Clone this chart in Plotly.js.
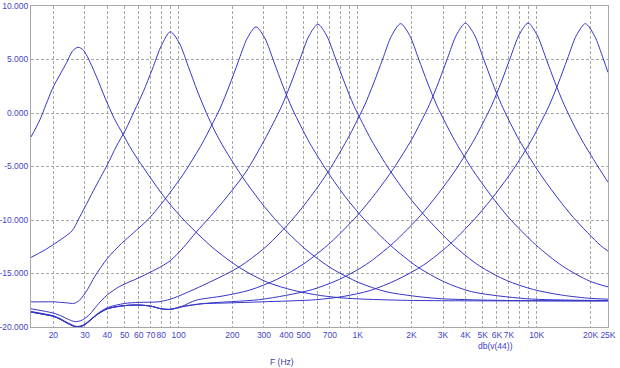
<!DOCTYPE html>
<html>
<head>
<meta charset="utf-8">
<script src="https://cdn.plot.ly/plotly-3.0.1.min.js"></script>
<style>html,body{margin:0;padding:0;background:#fff;}#chart{width:620px;height:368px;}</style>
</head>
<body>
<div id="chart"></div>
<script>
// Frequencies (Hz) and levels (dB), one pair per band
const f1 = [15, 16.7, 18.2, 19.8, 21.7, 23.7, 25.6, 27.5, 29.2, 30.9, 34.6, 38.9, 43.7, 49, 55, 69.3, 87.3, 110, 155.6, 220, 311, 440, 622, 880, 1760, 3520, 25000];
const d1 = [-2.24, -0.75, 0.8, 2.3, 3.55, 4.7, 5.8, 6.15, 5.93, 5.3, 3.5, 1.4, -0.5, -2.0, -3.5, -6.0, -8.3, -10.2, -12.6, -14.47, -15.8, -16.58, -17.06, -17.32, -17.5, -17.55, -17.56];

const f2 = [15, 17.5, 20, 23, 25.5, 27.5, 30, 33.5, 37, 40, 45, 50.5, 56.7, 63.6, 71.4, 80.2, 90, 101, 113.4, 127.3, 142.9, 160.4, 180, 226.8, 285.7, 360, 509, 720, 1018, 1440, 2036, 2880, 5760, 11520, 25000];
const d2 = [-13.5, -12.9, -12.3, -11.6, -11.0, -10.0, -8.8, -7.25, -5.9, -4.85, -3.1, -1.6, 0.2, 2.0, 4.1, 6.3, 7.6, 6.54, 4.34, 2.07, 0.03, -1.78, -3.3, -5.95, -8.25, -10.25, -12.7, -14.55, -15.85, -16.7, -17.1, -17.35, -17.5, -17.55, -17.56];

const f3 = [15, 17.5, 20, 22, 24, 26, 28, 31, 34, 40, 48, 56, 68, 85, 107.5, 135.5, 152, 170.7, 191.6, 215, 241.4, 271, 304.2, 341.4, 383.3, 430.2, 482.9, 542, 683, 860, 1084, 1533, 2168, 3066, 4336, 8672, 17344, 25000];
const d3 = [-17.65, -17.65, -17.65, -17.7, -17.75, -17.8, -17.5, -16.5, -15.3, -13.6, -12.2, -11.2, -9.9, -7.95, -5.6, -2.85, -1.25, 0.45, 2.5, 4.75, 6.95, 8.05, 6.95, 4.75, 2.5, 0.45, -1.25, -2.85, -5.55, -7.9, -9.9, -12.4, -14.4, -15.8, -16.7, -17.35, -17.5, -17.52];

const f4 = [15, 17.5, 20, 22, 24, 26.5, 29, 32, 35, 40, 47, 60, 75, 90, 106, 126, 150, 189, 238, 300, 337, 378, 424, 476, 535, 600, 673, 756, 849, 952, 1069, 1200, 1512, 1905, 2400, 3394, 4800, 6788, 9600, 13576, 19200, 25000];
const d4 = [-18.3, -18.5, -18.7, -18.95, -19.25, -19.5, -19.35, -18.8, -18.0, -17.0, -16.2, -15.4, -14.6, -13.8, -12.6, -11.1, -9.7, -7.7, -5.5, -2.6, -1.0, 0.7, 2.75, 5.0, 7.2, 8.3, 7.2, 5.0, 2.75, 0.7, -1.0, -2.6, -5.35, -7.7, -9.7, -12.3, -14.3, -15.65, -16.5, -17.0, -17.3, -17.4];

const f5 = [15, 17.5, 20, 22, 24, 27, 29.5, 32, 35, 40, 50, 60, 77, 90, 109, 154, 217.5, 307.6, 435, 548, 690.5, 870, 977, 1096, 1230, 1381, 1550, 1740, 1953, 2192, 2461, 2762, 3100, 3480, 4384, 5524, 6960, 9843, 13920, 19686, 25000];
const d5 = [-18.55, -18.75, -18.95, -19.25, -19.6, -19.95, -19.8, -19.35, -18.8, -18.2, -17.8, -17.7, -17.65, -17.4, -16.85, -15.7, -14.4, -12.5, -9.9, -7.8, -5.4, -2.55, -0.95, 0.75, 2.8, 5.05, 7.25, 8.35, 7.25, 5.05, 2.8, 0.75, -0.95, -2.55, -5.3, -7.65, -9.75, -12.3, -14.3, -15.7, -16.25];

const f6 = [15, 17.5, 20, 22, 24, 27, 29.5, 32, 35, 40, 50, 60, 70, 80, 90, 105, 125, 177, 250, 354, 500, 707, 1000, 1260, 1587, 2000, 2245, 2520, 2828, 3175, 3564, 4000, 4490, 5040, 5657, 6350, 7127, 8000, 10079, 12699, 16000, 22627, 25000];
const d6 = [-18.6, -18.8, -19.0, -19.3, -19.65, -20.0, -19.85, -19.4, -18.85, -18.3, -18.0, -17.95, -18.05, -18.3, -18.35, -18.05, -17.5, -17.1, -16.55, -15.55, -14.1, -12.1, -9.55, -7.5, -5.2, -2.5, -0.9, 0.8, 2.85, 5.1, 7.3, 8.4, 7.3, 5.1, 2.85, 0.8, -0.95, -2.55, -5.3, -7.65, -9.75, -12.35, -12.9];

const f7 = [15, 17.5, 20, 22, 24, 27, 29.5, 32, 35, 40, 50, 60, 70, 80, 90, 105, 140, 280, 396, 559, 791, 1119, 1582, 2238, 2818, 3551, 4475, 5023, 5638, 6329, 7104, 7974, 8950, 10046, 11276, 12657, 14207, 15947, 17900, 22552, 25000];
const d7 = [-18.6, -18.8, -19.0, -19.3, -19.65, -20.0, -19.85, -19.4, -18.85, -18.3, -18.0, -17.95, -18.05, -18.3, -18.35, -18.1, -17.8, -17.45, -17.05, -16.5, -15.55, -14.15, -12.15, -9.6, -7.55, -5.25, -2.5, -0.9, 0.8, 2.85, 5.1, 7.3, 8.4, 7.3, 5.1, 2.85, 0.8, -0.95, -2.55, -5.3, -6.45];

const f8 = [15, 17.5, 20, 22, 24, 27, 29.5, 32, 35, 40, 50, 60, 70, 80, 90, 105, 130, 190, 292, 584, 827, 1169, 1653, 2338, 3306, 4675, 5890, 7421, 9350, 10495, 11780, 13223, 14842, 16660, 18700, 20990, 23560, 25000];
const d8 = [-18.6, -18.8, -19.0, -19.3, -19.65, -20.0, -19.85, -19.4, -18.85, -18.3, -18.0, -17.95, -18.05, -18.3, -18.35, -18.1, -17.85, -17.75, -17.65, -17.45, -17.15, -16.6, -15.6, -14.2, -12.2, -9.6, -7.55, -5.25, -2.55, -0.95, 0.75, 2.8, 5.05, 7.25, 8.35, 7.25, 5.05, 3.8];

// Axis ticks
const xTickVals = [20, 30, 40, 50, 60, 70, 80, 90, 100, 200, 300, 400, 500, 600, 700, 800, 900, 1000, 2000, 3000, 4000, 5000, 6000, 7000, 8000, 9000, 10000, 20000, 25000];
const xTickText = ['20', '30', '40', '50', '60', '70', '80', '', '100', '200', '300', '400', '500', '', '700', '', '', '1K', '2K', '3K', '4K', '5K', '6K', '7K', '', '', '10K', '20K', '25K'];
const yTickVals = [-20, -15, -10, -5, 0, 5, 10];
const yTickText = ['-20.000', '-15.000', '-10.000', '-5.000', '0.000', '5.000', '10.000'];

const series = [[f1, d1], [f2, d2], [f3, d3], [f4, d4], [f5, d5], [f6, d6], [f7, d7], [f8, d8]];
const lineColor = '#3535c8';
const traces = series.map(function (s) {
  return {
    x: s[0], y: s[1], type: 'scatter', mode: 'lines',
    line: {color: lineColor, width: 1, shape: 'spline', smoothing: 0.8},
    hoverinfo: 'skip', showlegend: false
  };
});

const fam = 'Liberation Sans, Arial, sans-serif';
const tickFont = {family: fam, size: 8.5, color: '#4545c8'};
const layout = {
  width: 620, height: 368,
  margin: {l: 31, r: 12, t: 6, b: 41},
  paper_bgcolor: '#ffffff', plot_bgcolor: '#ffffff',
  showlegend: false,
  xaxis: {
    type: 'log', range: [Math.log10(15), Math.log10(25000) + 0.0003],
    tickmode: 'array', tickvals: xTickVals, ticktext: xTickText, tickangle: 0,
    ticks: '', showgrid: true, gridcolor: '#a8a8a8', griddash: '3px,2px', gridwidth: 1,
    showline: true, mirror: true, linecolor: '#a8a8a8', linewidth: 1,
    zeroline: false, tickfont: tickFont
  },
  yaxis: {
    range: [-20, 10],
    tickmode: 'array', tickvals: yTickVals, ticktext: yTickText,
    ticks: '', showgrid: true, gridcolor: '#a8a8a8', griddash: '3px,2px', gridwidth: 1,
    showline: true, mirror: true, linecolor: '#a8a8a8', linewidth: 1,
    zeroline: false, tickfont: tickFont
  },
  annotations: [
    {text: 'F (Hz)', x: 282, y: 362, xref: 'paper', yref: 'paper', showarrow: false,
     xanchor: 'center', yanchor: 'middle',
     font: {family: fam, size: 8.5, color: '#3a3aa0'}},
    {text: 'db(v(44))', x: 495, y: 346, xref: 'paper', yref: 'paper', showarrow: false,
     xanchor: 'center', yanchor: 'middle',
     font: {family: fam, size: 8.5, color: '#3c3cd0'}}
  ]
};
// convert annotation pixel positions to paper coordinates
const pw = 620 - 31 - 12, ph = 368 - 6 - 41;
layout.annotations.forEach(function (a) {
  a.x = (a.x - 31) / pw;
  a.y = (368 - 41 - a.y) / ph;
});

Plotly.newPlot('chart', traces, layout, {displayModeBar: false, staticPlot: true});
</script>
</body>
</html>
